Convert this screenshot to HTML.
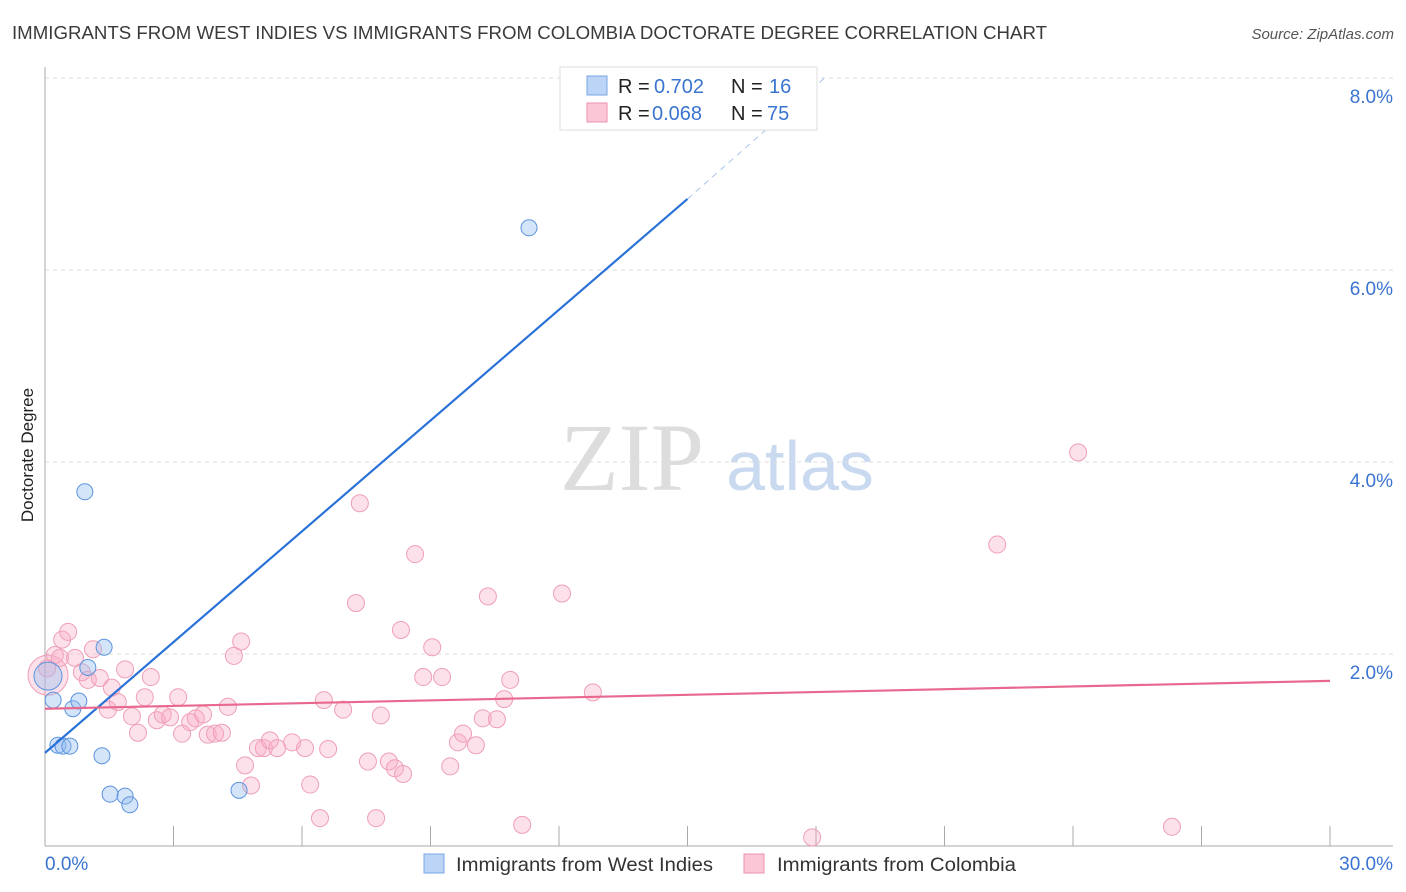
<!DOCTYPE html>
<html><head><meta charset="utf-8">
<style>
body{margin:0;background:#fff;font-family:"Liberation Sans",sans-serif;}
svg{display:block}
</style></head>
<body>
<svg id="chart" width="1406" height="892">
<text x="12" y="39" font-size="18" fill="#3a3a3a" textLength="1035" lengthAdjust="spacingAndGlyphs">IMMIGRANTS FROM WEST INDIES VS IMMIGRANTS FROM COLOMBIA DOCTORATE DEGREE CORRELATION CHART</text>
<text x="1394" y="39" font-size="15" fill="#555" font-style="italic" text-anchor="end">Source: ZipAtlas.com</text>
<text x="33" y="455" font-size="17" fill="#222" text-anchor="middle" transform="rotate(-90 33 455)">Doctorate Degree</text>
<g>
<text x="632" y="490" font-size="96" fill="#ddd" font-family="Liberation Serif,serif" text-anchor="middle">ZIP</text>
<text x="800" y="490" font-size="70" fill="#c9daf0" text-anchor="middle">atlas</text>
</g>
<g id="grid"></g><g id="axes"></g><g id="marks"></g>
<g>
<rect x="560" y="67" width="257" height="63" fill="#fff" stroke="#ddd"/>
<rect x="587" y="76" width="20" height="19" fill="#bcd4f5" stroke="#7aa6e6"/>
<rect x="587" y="103" width="20" height="19" fill="#fbc6d6" stroke="#ee92ae"/>
<text font-size="20" y="93"><tspan x="618" fill="#222">R = </tspan><tspan x="654" fill="#3a74d0">0.702</tspan><tspan x="731" fill="#222">N = </tspan><tspan x="769" fill="#3a74d0">16</tspan></text>
<text font-size="20" y="120"><tspan x="618" fill="#222">R = </tspan><tspan x="652" fill="#3a74d0">0.068</tspan><tspan x="731" fill="#222">N = </tspan><tspan x="767" fill="#3a74d0">75</tspan></text>
</g>
<g>
<rect x="424" y="854" width="20" height="19" fill="#bcd4f5" stroke="#7aa6e6"/>
<text x="456" y="871" font-size="19" fill="#333" textLength="257" lengthAdjust="spacingAndGlyphs">Immigrants from West Indies</text>
<rect x="744" y="854" width="20" height="19" fill="#fbc6d6" stroke="#ee92ae"/>
<text x="777" y="871" font-size="19" fill="#333" textLength="239" lengthAdjust="spacingAndGlyphs">Immigrants from Colombia</text>
</g>
</svg>
<script>
const yTicks=[2,4,6,8];
const yTickLabels=["2.0%","4.0%","6.0%","8.0%"];
const xTickLabels=["0.0%","30.0%"];
const blueX=[0.07,0.19,0.65,0.79,1.0,1.38,0.93,0.3,0.42,0.58,1.33,1.52,1.87,1.98,4.53,11.3];
const blueY=[1.77,1.52,1.43,1.51,1.86,2.07,3.69,1.05,1.04,1.04,0.94,0.54,0.52,0.43,0.58,6.44];
const pinkX=[0.07,0.23,0.4,0.54,0.35,0.7,0.86,1.0,1.12,1.28,1.56,1.47,1.7,1.87,2.03,2.17,2.33,2.47,2.61,2.75,2.92,3.11,3.2,3.39,3.52,3.69,3.8,3.97,4.13,4.27,4.41,4.58,4.67,4.81,4.97,5.11,5.25,5.42,5.77,6.07,6.19,6.42,6.51,6.61,6.96,7.26,7.35,7.54,7.73,7.84,8.03,8.17,8.36,8.31,8.64,8.83,9.04,9.27,9.46,9.64,9.76,10.06,10.22,10.34,10.55,10.72,10.86,11.14,12.07,12.79,17.91,22.23,24.12,26.31,0.05];
const pinkY=[1.78,1.99,2.15,2.23,1.96,1.96,1.81,1.73,2.05,1.75,1.65,1.42,1.5,1.84,1.35,1.18,1.55,1.76,1.31,1.37,1.34,1.55,1.17,1.29,1.33,1.37,1.16,1.17,1.18,1.45,1.98,2.13,0.84,0.63,1.02,1.02,1.1,1.02,1.08,1.02,0.64,0.29,1.52,1.01,1.42,2.53,3.57,0.88,0.29,1.36,0.88,0.81,0.75,2.25,3.04,1.76,2.07,1.76,0.83,1.08,1.17,1.05,1.33,2.6,1.32,1.53,1.73,0.22,2.63,1.6,0.09,3.14,4.1,0.2,1.85];
const blueLine=[0,0.97,15,6.74];
const blueDash=[15,6.74,18.2,8];
const pinkLine=[0,1.43,30,1.72];
const NS="http://www.w3.org/2000/svg";
const X0=45,X1=1330,Y0=846,PY=96;
const sx=v=>X0+(X1-X0)*v/30, sy=v=>Y0-v*PY;
function mk(t,a,p){const e=document.createElementNS(NS,t);for(const k in a)e.setAttribute(k,a[k]);p.appendChild(e);return e;}
const grid=document.getElementById('grid'),axes=document.getElementById('axes'),marks=document.getElementById('marks');
yTicks.forEach((t,i)=>{
 const l=mk('line',{x1:X0,x2:1393,y1:sy(t),y2:sy(t),stroke:'#ddd','stroke-dasharray':'4,4'},grid);
 
 
 const tx=mk('text',{x:1393,y:sy(t)+25,'font-size':19,fill:'#3a74d0','text-anchor':'end'},axes);
 tx.textContent=yTickLabels[i];
 
 
});
const ya=mk('line',{x1:X0,x2:X0,y1:67,y2:846,stroke:'#aaa'},axes);


const xa=mk('line',{x1:X0,x2:1393,y1:846,y2:846,stroke:'#aaa'},axes);


for(let v=3;v<=30;v+=3){
 const tk=mk('line',{x1:sx(v),x2:sx(v),y1:826,y2:846,stroke:'#aaa'},axes);
 
 
}
[[0,'start',45],[30,'end',1393]].forEach((d,i)=>{
 const tx=mk('text',{x:d[2],y:870,'font-size':19,fill:'#3a74d0','text-anchor':d[1]},axes);
 tx.textContent=xTickLabels[i];
 
 
});
pinkX.forEach((v,i)=>{
 const r=i==0?20:8.5;
 const c=mk('circle',{cx:sx(v),cy:sy(pinkY[i]),r:r,fill:'rgba(248,170,195,0.35)',stroke:'#ef9fb8','stroke-width':1},marks);
 
 
});
blueX.forEach((v,i)=>{
 const r=i==0?14:8;
 const c=mk('circle',{cx:sx(v),cy:sy(blueY[i]),r:r,fill:'rgba(150,190,240,0.4)',stroke:'#5b93dd','stroke-width':1},marks);
 
 
});
const bl=mk('line',{x1:sx(blueLine[0]),y1:sy(blueLine[1]),x2:sx(blueLine[2]),y2:sy(blueLine[3]),stroke:'#2a72d8','stroke-width':2.2},marks);


const bd=mk('line',{x1:sx(blueDash[0]),y1:sy(blueDash[1]),x2:sx(blueDash[2]),y2:sy(blueDash[3]),stroke:'#a9c4ea','stroke-width':1,'stroke-dasharray':'6,5'},marks);


const pl=mk('line',{x1:sx(pinkLine[0]),y1:sy(pinkLine[1]),x2:sx(pinkLine[2]),y2:sy(pinkLine[3]),stroke:'#e8688f','stroke-width':2.2},marks);


</script>
</body></html>
